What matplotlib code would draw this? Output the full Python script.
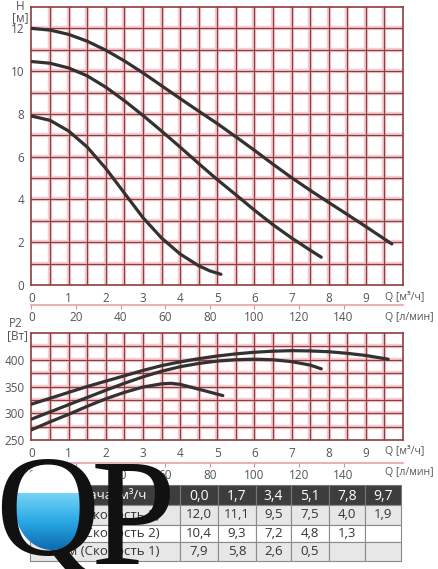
import matplotlib
matplotlib.use("Agg")
import matplotlib.pyplot as plt
import numpy as np
from matplotlib.patches import Rectangle, Ellipse
from matplotlib.colors import LinearSegmentedColormap

plt.rcParams['font.family'] = ['Open Sans', 'DejaVu Sans']

# кривые H(Q)
q_h3 = [0, 0.5, 1.0, 1.5, 2.0, 2.5, 3.0, 3.5, 4.0, 4.5, 5.0, 5.5, 6.0, 6.5, 7.0, 7.5, 8.0, 8.5, 9.0, 9.5, 9.7]
h3 = [12.0, 11.92, 11.72, 11.4, 10.98, 10.48, 9.92, 9.32, 8.72, 8.13, 7.55, 6.93, 6.3, 5.65, 5.02, 4.43, 3.86, 3.3, 2.73, 2.15, 1.92]
q_h2 = [0, 0.5, 1.0, 1.5, 2.0, 2.5, 3.0, 3.5, 4.0, 4.5, 5.0, 5.5, 6.0, 6.5, 7.0, 7.5, 7.8]
h2 = [10.45, 10.37, 10.15, 9.78, 9.25, 8.62, 7.93, 7.2, 6.45, 5.68, 4.93, 4.22, 3.5, 2.82, 2.2, 1.63, 1.3]
q_h1 = [0, 0.5, 1.0, 1.5, 2.0, 2.5, 3.0, 3.5, 4.0, 4.5, 4.8, 5.1]
h1 = [7.9, 7.7, 7.2, 6.45, 5.45, 4.3, 3.15, 2.2, 1.45, 0.9, 0.66, 0.5]

# кривые P2(Q)
q_p3 = [0, 0.5, 1, 1.5, 2, 2.5, 3, 3.5, 4, 4.5, 5, 5.5, 6, 6.5, 7, 7.5, 8, 8.5, 9, 9.6]
p3 = [317, 328, 339, 350, 360, 370, 380, 389, 396, 402, 407, 411, 414, 416, 417, 416.5, 415, 412, 408, 401]
q_p2 = [0, 0.5, 1, 1.5, 2, 2.5, 3, 3.5, 4, 4.5, 5, 5.5, 6, 6.5, 7, 7.5, 7.8]
p2 = [289, 302.5, 316, 329.5, 343, 356, 368, 378.5, 387, 393, 397.5, 400, 401, 400, 396.5, 390, 383]
q_p1 = [0, 0.5, 1, 1.5, 2, 2.5, 3, 3.5, 3.75, 4, 4.5, 5.15]
p1 = [269, 284, 298, 313, 327, 339, 349, 355, 356, 354, 345, 333]

# таблица
table_q = [0.0, 1.7, 3.4, 5.1, 7.8, 9.7]
table_h3 = [12.0, 11.1, 9.5, 7.5, 4.0, 1.9]
table_h2 = [10.4, 9.3, 7.2, 4.8, 1.3]
table_h1 = [7.9, 5.8, 2.6, 0.5]
row_labels = ["H, м (Скорость 3)", "H, м (Скорость 2)", "H, м (Скорость 1)"]
header_label = "Подача, м³/ч"

grid_dark = "#8e3c40"
grid_glow = "#f5cdd0"
curve_col = "#333132"
tick_col = "#555555"
W, H = 439, 569

fig = plt.figure(figsize=(W / 100, H / 100), dpi=100)


def px_axes(left, top, right, bottom):
    return fig.add_axes([left / W, 1 - bottom / H, (right - left) / W, (bottom - top) / H])


def draw_grid(ax, xs, ys):
    for x in xs:
        ax.axvline(x, color=grid_glow, lw=3.2, zorder=0)
        ax.axvline(x, color=grid_dark, lw=0.9, zorder=1)
    for y in ys:
        ax.axhline(y, color=grid_glow, lw=3.2, zorder=0)
        ax.axhline(y, color=grid_dark, lw=0.9, zorder=1)
    for s in ax.spines.values():
        s.set_color(grid_dark)
        s.set_linewidth(1.2)
    ax.tick_params(length=0, labelsize=8.5, labelcolor=tick_col, pad=5)


def flow_axis(ax, loc):
    sec = ax.secondary_xaxis(loc, functions=(lambda q: q * 1000 / 60, lambda l: l * 60 / 1000))
    sec.set_xticks(np.arange(0, 141, 20))
    sec.spines['bottom'].set_color("#e8a0a8")
    sec.spines['bottom'].set_linewidth(1.2)
    sec.tick_params(direction='out', length=3, color="#e08a94", labelsize=8.5,
                    labelcolor=tick_col, pad=1)
    return sec


# --- H(Q)
ax1 = px_axes(31.5, 7, 403, 285)
ax1.set_xlim(0, 10)
ax1.set_ylim(0, 13)
draw_grid(ax1, np.arange(0.5, 10, 0.5), np.arange(1, 13, 1))
for q, h in [(q_h3, h3), (q_h2, h2), (q_h1, h1)]:
    ax1.plot(q, h, color=curve_col, lw=2.3, solid_capstyle='round',
             solid_joinstyle='round', zorder=3)
ax1.set_xticks(range(0, 10))
ax1.set_yticks(range(0, 13, 2))
flow_axis(ax1, -0.072)

# --- P2(Q)
ax2 = px_axes(31.5, 333, 403, 440)
ax2.set_xlim(0, 10)
ax2.set_ylim(250, 450)
draw_grid(ax2, np.arange(0.5, 10, 0.5), np.arange(275, 450, 25))
for q, p in [(q_p3, p3), (q_p2, p2), (q_p1, p1)]:
    ax2.plot(q, p, color=curve_col, lw=2.3, solid_capstyle='round',
             solid_joinstyle='round', zorder=3)
ax2.set_xticks(range(0, 10))
ax2.set_yticks([250, 300, 350, 400])
flow_axis(ax2, -0.215)

# --- подписи и таблица в пиксельных координатах
ov = fig.add_axes([0, 0, 1, 1], zorder=10)
ov.set_xlim(0, W)
ov.set_ylim(H, 0)
ov.axis('off')

lab = dict(fontsize=8.5, color=tick_col, va='center')
ov.text(20, 6, "H", ha='center', **lab)
ov.text(20, 18, "[м]", ha='center', **lab)
ov.text(16, 323, "P2", ha='center', **lab)
ov.text(17, 336, "[Вт]", ha='center', **lab)
qlab = dict(fontsize=7.6, color=tick_col, va='center', ha='left')
for y in (297, 451):
    ov.text(385, y, "Q [м³/ч]", **qlab)
for y in (317, 472):
    ov.text(385, y, "Q [л/мин]", **qlab)

col_x = [30, 180, 218, 256, 291, 329, 365, 401]
row_y = [485, 505, 525, 542, 561]
row_bg = ["#e7e7e7", "#ffffff", "#e7e7e7"]


def fmt(v):
    return f"{v:.1f}".replace('.', ',')


for j in range(len(col_x) - 1):
    ov.add_patch(Rectangle((col_x[j], row_y[0]), col_x[j + 1] - col_x[j], row_y[1] - row_y[0],
                           facecolor="#3d3d3d", edgecolor="#777777", lw=0.8))
ov.text((col_x[0] + col_x[1]) / 2, (row_y[0] + row_y[1]) / 2, header_label,
        ha='center', va='center', color='white', fontsize=9.5)
for j, v in enumerate(table_q):
    ov.text((col_x[j + 1] + col_x[j + 2]) / 2, (row_y[0] + row_y[1]) / 2 + 1, fmt(v),
            ha='center', va='center', color='white', fontsize=10)

for i, (name, vals) in enumerate(zip(row_labels, [table_h3, table_h2, table_h1])):
    y0, y1 = row_y[i + 1], row_y[i + 2]
    for j in range(len(col_x) - 1):
        ov.add_patch(Rectangle((col_x[j], y0), col_x[j + 1] - col_x[j], y1 - y0,
                               facecolor=row_bg[i], edgecolor="#8a8a8a", lw=0.8))
    ov.text((col_x[0] + col_x[1]) / 2, (y0 + y1) / 2, name, ha='center', va='center',
            color="#333333", fontsize=9.5)
    for j, v in enumerate(vals):
        ov.text((col_x[j + 1] + col_x[j + 2]) / 2, (y0 + y1) / 2, fmt(v),
                ha='center', va='center', color="#333333", fontsize=9.5)

# --- логотип QP
inner = Ellipse((52, 507), 74, 86, facecolor='white', edgecolor='none', zorder=11)
ov.add_patch(inner)
water_cmap = LinearSegmentedColormap.from_list("water", ["#74d3f6", "#27a6e3", "#0c66ad"])
water = np.linspace(0, 1, 60)[:, None] * np.ones((1, 40))
img = ov.imshow(water, cmap=water_cmap, extent=(12, 92, 552, 493),
                aspect='auto', zorder=12)
img.set_clip_path(inner)
ov.text(-5, 555, "Q", fontsize=104, family='Liberation Serif', color='#111111',
        ha='left', va='baseline', zorder=13)
ov.text(91, 564, "P", fontsize=110, family='Liberation Serif', color='#111111',
        ha='left', va='baseline', zorder=13)
ov.set_xlim(0, W)
ov.set_ylim(H, 0)

fig.savefig("out.png", dpi=100)
